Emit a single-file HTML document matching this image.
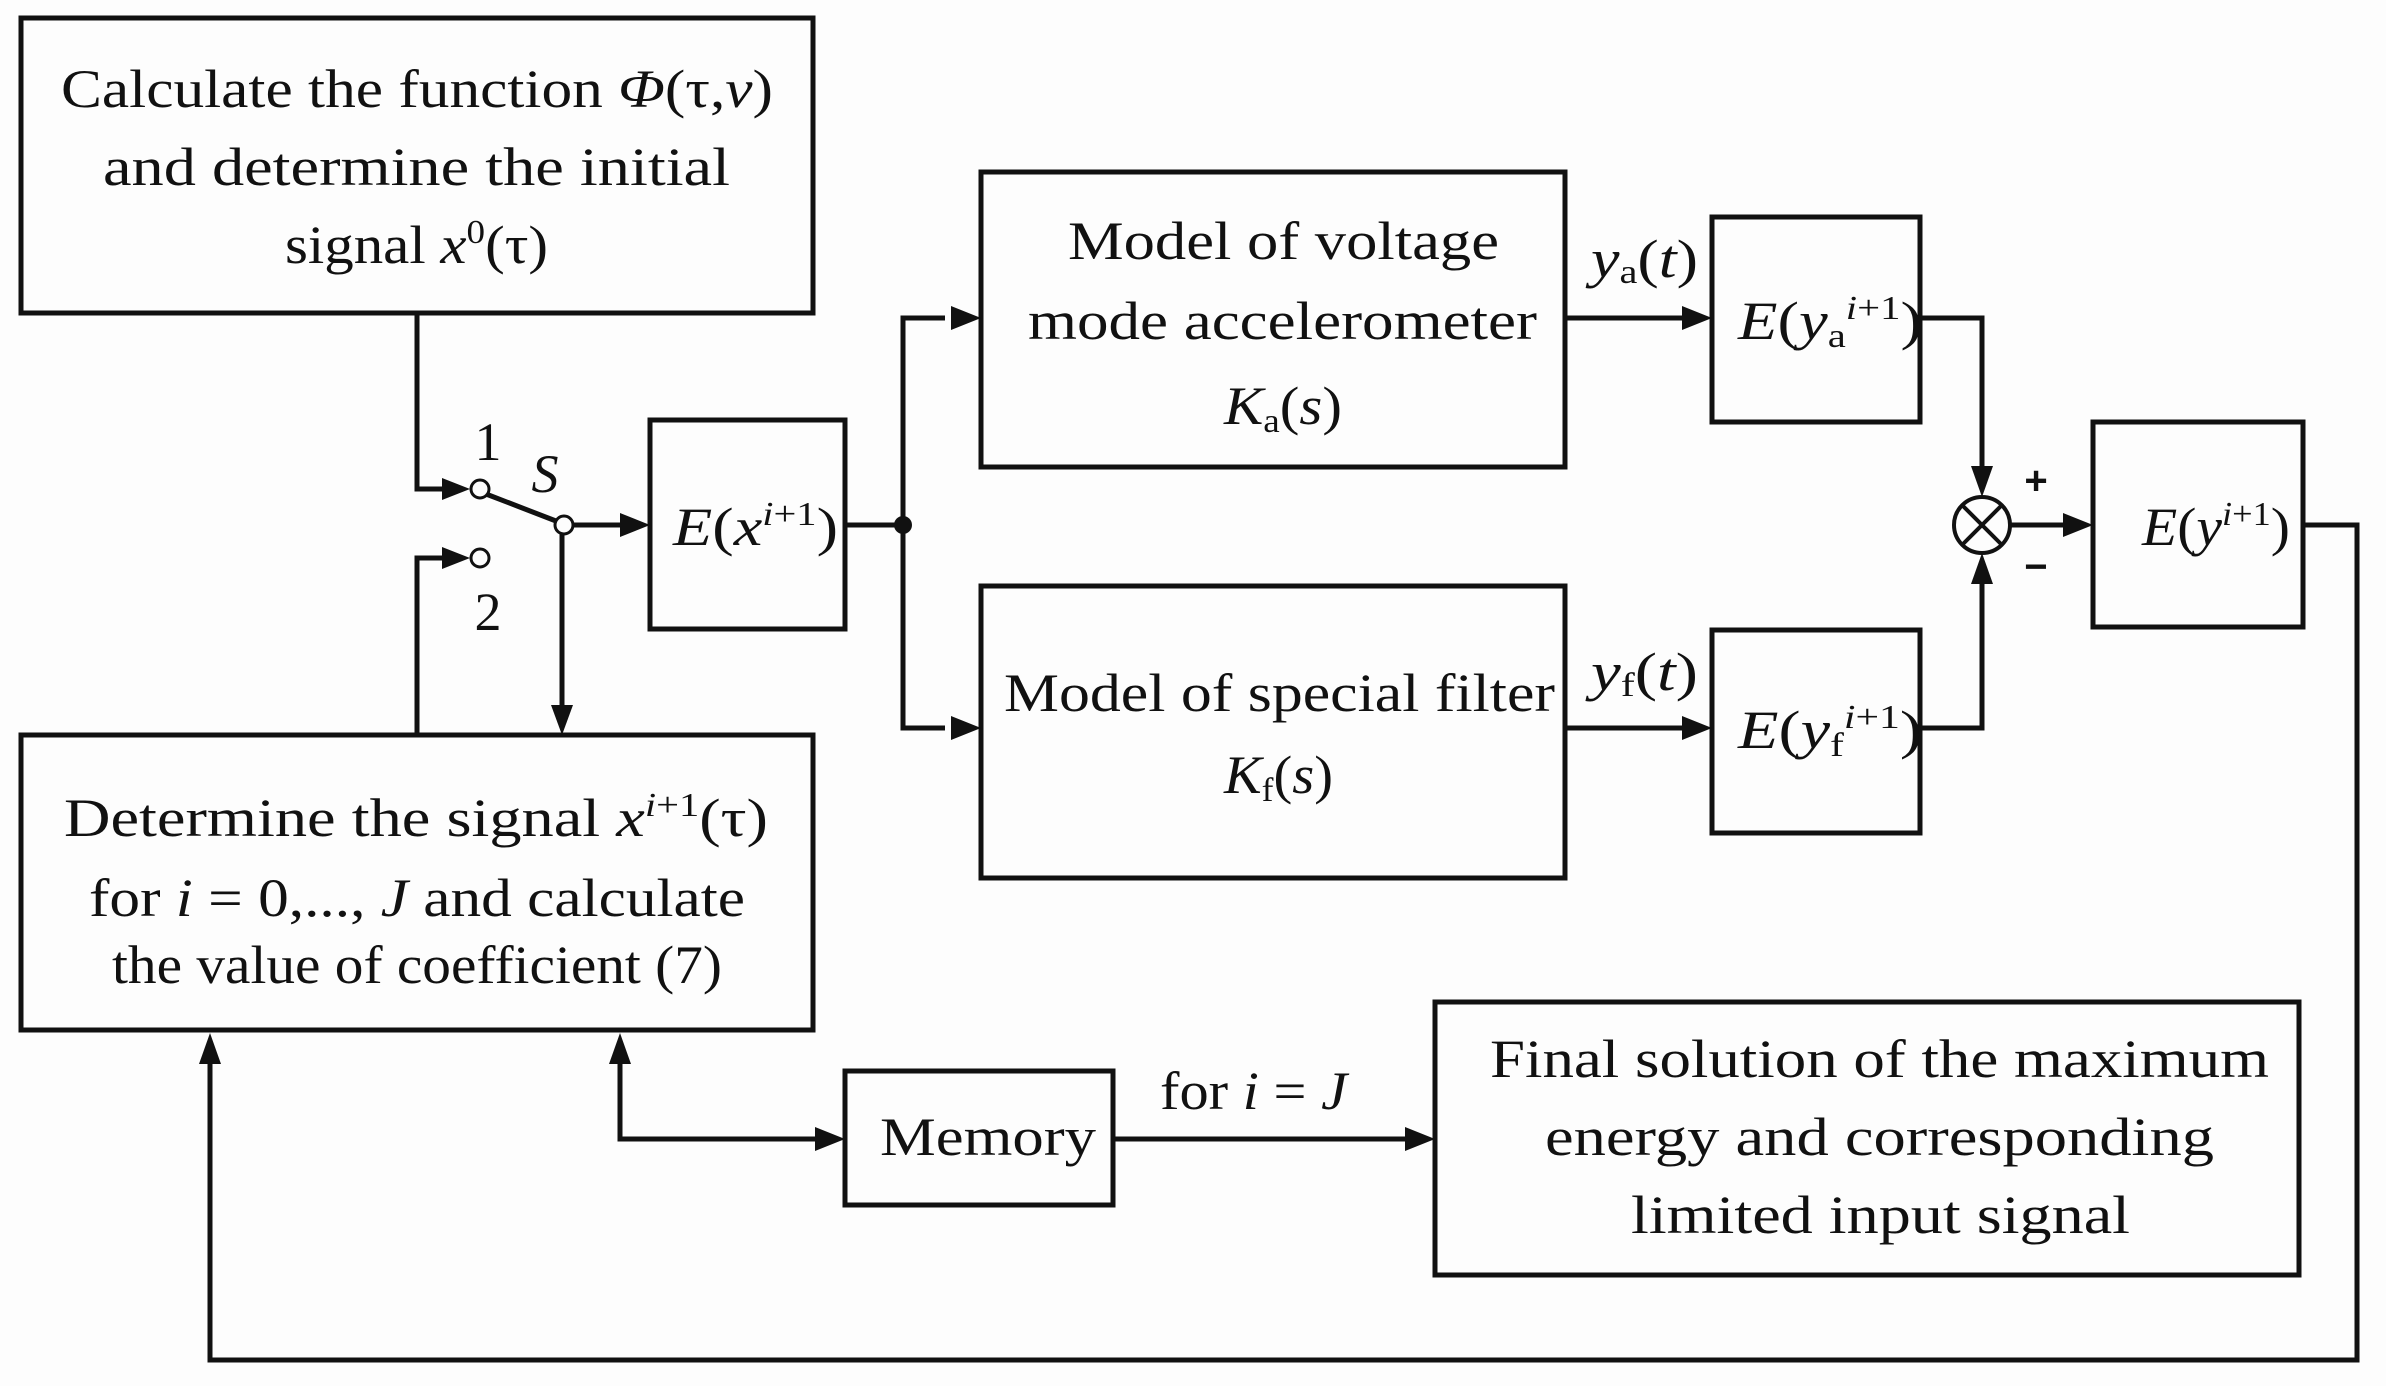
<!DOCTYPE html>
<html><head><meta charset="utf-8"><style>
html,body{margin:0;padding:0;background:#fdfdfd;}
svg{display:block;}
text{font-family:"Liberation Serif",serif;font-size:54px;fill:#111;}
.i{font-style:italic;}
.s{font-size:34px;}
</style></head><body>
<svg width="2386" height="1386" viewBox="0 0 2386 1386" xmlns="http://www.w3.org/2000/svg">
<g fill="none" stroke="#111" stroke-width="5">
<rect x="21" y="18" width="792" height="295"/>
<rect x="650" y="420" width="195" height="209"/>
<rect x="981" y="172" width="584" height="295"/>
<rect x="981" y="586" width="584" height="292"/>
<rect x="1712" y="217" width="208" height="205"/>
<rect x="1712" y="630" width="208" height="203"/>
<rect x="2093" y="422" width="210" height="205"/>
<rect x="21" y="735" width="792" height="295"/>
<rect x="845" y="1071" width="268" height="134"/>
<rect x="1435" y="1002" width="864" height="273"/>
<polyline points="417,313 417,489 462,489"/>
<polyline points="417,735 417,558 462,558"/>
<line x1="486" y1="494" x2="556" y2="521"/>
<line x1="570" y1="525" x2="622" y2="525"/>
<line x1="562" y1="533" x2="562" y2="706"/>
<line x1="845" y1="525" x2="903" y2="525"/>
<polyline points="945,318 903,318 903,728 945,728"/>
<line x1="1565" y1="318" x2="1684" y2="318"/>
<line x1="1565" y1="728" x2="1684" y2="728"/>
<polyline points="1920,318 1982,318 1982,466"/>
<polyline points="1920,728 1982,728 1982,584"/>
<line x1="2011" y1="525" x2="2066" y2="525"/>
<polyline points="2303,525 2357,525 2357,1360 210,1360 210,1063"/>
<polyline points="620,1063 620,1139 818,1139"/>
<line x1="1113" y1="1139" x2="1408" y2="1139"/>
<circle cx="1982" cy="525" r="28" stroke-width="4"/>
<line x1="1962" y1="505" x2="2002" y2="545" stroke-width="4"/>
<line x1="2002" y1="505" x2="1962" y2="545" stroke-width="4"/>
</g>
<g fill="#fdfdfd" stroke="#111" stroke-width="3">
<circle cx="480" cy="489" r="9"/>
<circle cx="480" cy="558" r="9"/>
<circle cx="564" cy="525" r="9"/>
</g>
<circle cx="903" cy="525" r="9" fill="#111"/>
<g fill="#111">
<polygon points="470,489 442,478 442,500"/>
<polygon points="470,558 442,547 442,569"/>
<polygon points="650,525 620,513 620,537"/>
<polygon points="562,735 551,705 573,705"/>
<polygon points="981,318 951,306 951,330"/>
<polygon points="981,728 951,716 951,740"/>
<polygon points="1712,318 1682,306 1682,330"/>
<polygon points="1712,728 1682,716 1682,740"/>
<polygon points="1982,497 1971,466 1993,466"/>
<polygon points="1982,553 1971,584 1993,584"/>
<polygon points="2093,525 2063,513 2063,537"/>
<polygon points="210,1033 199,1064 221,1064"/>
<polygon points="620,1033 609,1064 631,1064"/>
<polygon points="845,1139 815,1127 815,1151"/>
<polygon points="1435,1139 1405,1127 1405,1151"/>
</g>
<g lengthAdjust="spacingAndGlyphs">
<text x="61" y="107" textLength="712" lengthAdjust="spacingAndGlyphs">Calculate the function <tspan class="i">Φ</tspan>(τ,<tspan class="i">v</tspan>)</text>
<text x="103" y="185" textLength="627" lengthAdjust="spacingAndGlyphs">and determine the initial</text>
<text x="285" y="263" textLength="263" lengthAdjust="spacingAndGlyphs">signal <tspan class="i">x</tspan><tspan class="s" dy="-20">0</tspan><tspan dy="20">(τ)</tspan></text>
<text x="488" y="460" text-anchor="middle">1</text>
<text x="545" y="492" text-anchor="middle" class="i">S</text>
<text x="488" y="630" text-anchor="middle">2</text>
<text x="673" y="545" textLength="165" lengthAdjust="spacingAndGlyphs"><tspan class="i">E</tspan>(<tspan class="i">x</tspan><tspan class="s" dy="-20"><tspan class="i">i</tspan>+1</tspan><tspan dy="20">)</tspan></text>
<text x="1068" y="259" textLength="431" lengthAdjust="spacingAndGlyphs">Model of voltage</text>
<text x="1028" y="339" textLength="509" lengthAdjust="spacingAndGlyphs">mode accelerometer</text>
<text x="1224" y="424" textLength="118" lengthAdjust="spacingAndGlyphs"><tspan class="i">K</tspan><tspan class="s" dy="8">a</tspan><tspan dy="-8">(</tspan><tspan class="i">s</tspan>)</text>
<text x="1004" y="711" textLength="551" lengthAdjust="spacingAndGlyphs">Model of special filter</text>
<text x="1224" y="793" textLength="109" lengthAdjust="spacingAndGlyphs"><tspan class="i">K</tspan><tspan class="s" dy="8">f</tspan><tspan dy="-8">(</tspan><tspan class="i">s</tspan>)</text>
<text x="1591" y="277" textLength="107" lengthAdjust="spacingAndGlyphs"><tspan class="i">y</tspan><tspan class="s" dy="6">a</tspan><tspan dy="-6">(</tspan><tspan class="i">t</tspan>)</text>
<text x="1591" y="690" textLength="107" lengthAdjust="spacingAndGlyphs"><tspan class="i">y</tspan><tspan class="s" dy="6">f</tspan><tspan dy="-6">(</tspan><tspan class="i">t</tspan>)</text>
<text x="1738" y="339" textLength="184" lengthAdjust="spacingAndGlyphs"><tspan class="i">E</tspan>(<tspan class="i">y</tspan><tspan class="s" dy="8">a</tspan><tspan class="s" dy="-28"><tspan class="i">i</tspan>+1</tspan><tspan dy="20">)</tspan></text>
<text x="1738" y="748" textLength="184" lengthAdjust="spacingAndGlyphs"><tspan class="i">E</tspan>(<tspan class="i">y</tspan><tspan class="s" dy="8">f</tspan><tspan class="s" dy="-28"><tspan class="i">i</tspan>+1</tspan><tspan dy="20">)</tspan></text>
<text x="2142" y="545" textLength="148" lengthAdjust="spacingAndGlyphs"><tspan class="i">E</tspan>(<tspan class="i">y</tspan><tspan class="s" dy="-20"><tspan class="i">i</tspan>+1</tspan><tspan dy="20">)</tspan></text>
<text x="2036" y="494" text-anchor="middle" style="font-family:'Liberation Sans',sans-serif;font-size:40px;font-weight:bold">+</text>
<text x="2036" y="580" text-anchor="middle" style="font-family:'Liberation Sans',sans-serif;font-size:40px;font-weight:bold">−</text>
<text x="64" y="836" textLength="704" lengthAdjust="spacingAndGlyphs">Determine the signal <tspan class="i">x</tspan><tspan class="s" dy="-20"><tspan class="i">i</tspan>+1</tspan><tspan dy="20">(τ)</tspan></text>
<text x="89" y="916" textLength="656" lengthAdjust="spacingAndGlyphs">for <tspan class="i">i</tspan> = 0,..., <tspan class="i">J</tspan>  and calculate</text>
<text x="112" y="983" textLength="610" lengthAdjust="spacingAndGlyphs">the value of coefficient (7)</text>
<text x="880" y="1155" textLength="216" lengthAdjust="spacingAndGlyphs">Memory</text>
<text x="1160" y="1109" textLength="187" lengthAdjust="spacingAndGlyphs">for <tspan class="i">i</tspan> = <tspan class="i">J</tspan></text>
<text x="1490" y="1077" textLength="779" lengthAdjust="spacingAndGlyphs">Final solution of the maximum</text>
<text x="1545" y="1155" textLength="669" lengthAdjust="spacingAndGlyphs">energy and corresponding</text>
<text x="1631" y="1233" textLength="499" lengthAdjust="spacingAndGlyphs">limited input signal</text>
</g>
</svg>
</body></html>
